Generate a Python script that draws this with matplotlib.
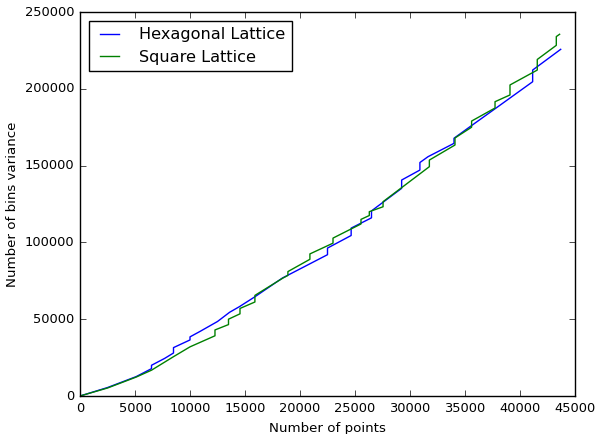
import matplotlib
matplotlib.use('Agg')
import matplotlib.pyplot as plt

# breakpoints (a repeated x is a jump)
hex_x = [0, 2500, 5100, 6500, 6500, 7700, 8500, 8500, 10000, 10000, 10900,
         12500, 13600, 14500, 15900, 18400, 22500, 22500, 24650, 24650,
         26500, 26500, 27000, 29240, 29240, 30900, 30900, 31640, 34000,
         34000, 35450, 37575, 41150, 41150, 43700]
hex_y = [0, 5500, 12600, 17800, 20000, 24500, 28000, 31500, 36500, 38500, 42000,
         48500, 54500, 58200, 64600, 76800, 92000, 96300, 104500, 109300,
         116000, 120500, 123200, 135200, 140600, 147100, 152000, 155800, 164500,
         167800, 175300, 186200, 204600, 212200, 225700]

sq_x = [0, 2500, 5100, 6500, 8500, 10000, 12270, 12270, 13500, 13500,
        14545, 14545, 15900, 15900, 18450, 18900, 18900, 20900, 20900,
        23000, 23000, 25545, 25545, 26300, 26300, 27550, 27550, 31760, 31760,
        34090, 34090, 35600, 35600, 37730, 37730, 39090, 39090, 41570, 41570,
        43300, 43300, 43600]
sq_y = [0, 5200, 12300, 16800, 25600, 32000, 39200, 43000, 46500, 50000,
        53500, 57000, 61200, 65500, 76800, 78500, 81000, 89000, 92500,
        99500, 102800, 112000, 115000, 117500, 120000, 123200, 126500, 149300, 153600,
        163400, 168000, 175000, 179000, 187500, 191600, 196000, 202500, 212200, 219100,
        228300, 234000, 235500]

plt.style.use('classic')
fig = plt.figure(figsize=(5.98, 4.34), dpi=100, facecolor='white')
ax = fig.add_axes([80 / 598, 38 / 434, 495 / 598, 384 / 434])

ax.plot(hex_x, hex_y, 'b', lw=1, label='Hexagonal Lattice')
ax.plot(sq_x, sq_y, 'g', lw=1, label='Square Lattice')

ax.set_xlim(0, 45000)
ax.set_ylim(0, 250000)
ax.set_xlabel('Number of points', fontsize=9.6, labelpad=5.5)
ax.set_ylabel('Number of bins variance', fontsize=9.6, labelpad=4)
ax.tick_params(labelsize=9.4, length=4)
ax.legend(loc='upper left', fontsize=11.6, handlelength=1.8,
          handletextpad=0.9, labelspacing=0.45, borderaxespad=0.55)

fig.savefig('out.png', dpi=100, facecolor='white')
